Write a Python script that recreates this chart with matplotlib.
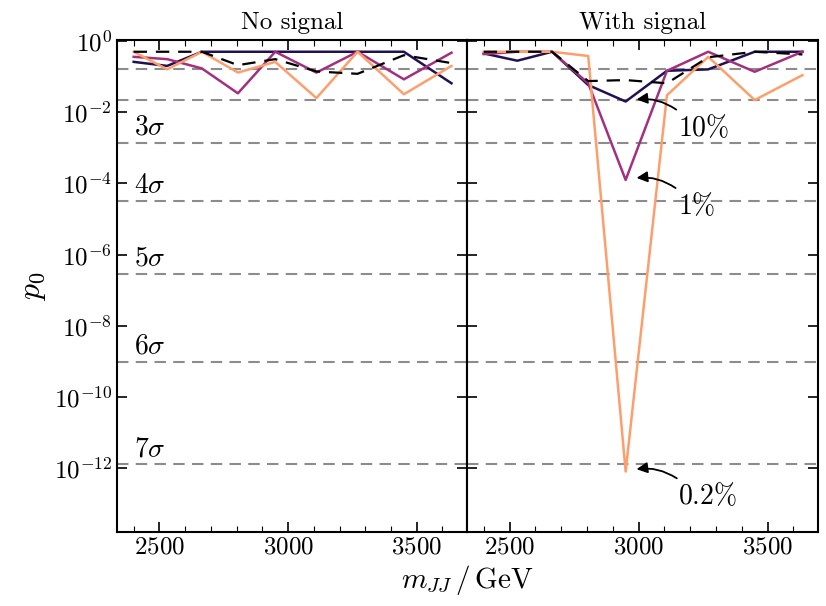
#!/usr/bin/env python3
"""Local p0 scan in m_JJ, without and with injected signal."""

import matplotlib
matplotlib.use("Agg")
import matplotlib.pyplot as plt
from matplotlib.ticker import LogLocator, NullLocator, MultipleLocator
import numpy as np

# bin centres in m_JJ [GeV]
MJJ = [2400, 2530, 2665, 2805, 2950, 3110, 3270, 3450, 3635]

# p0 values
P0_NOSIG = {
    "navy": [0.26, 0.20, 0.5, 0.5, 0.5, 0.5, 0.5, 0.5, 0.065],
    "magenta": [0.36, 0.31, 0.17, 0.034, 0.5, 0.13, 0.5, 0.084, 0.47],
    "orange": [0.5, 0.16, 0.5, 0.13, 0.26, 0.025, 0.5, 0.032, 0.20],
    "dashed": [0.5, 0.5, 0.5, 0.21, 0.31, 0.14, 0.12, 0.40, 0.24],
}
P0_SIG = {
    "navy": [0.45, 0.28, 0.5, 0.058, 0.020, 0.146, 0.16, 0.5, 0.5],
    "magenta": [0.43, 0.5, 0.5, 0.065, 1.25e-4, 0.146, 0.5, 0.137, 0.5],
    "orange": [0.5, 0.5, 0.5, 0.38, 8e-13, 0.030, 0.36, 0.022, 0.11],
    "dashed": [0.5, 0.5, 0.5, 0.075, 0.08, 0.065, 0.35, 0.5, 0.42],
}
SIG_LABELS = {"navy": r"$10\%$", "magenta": r"$1\%$", "orange": r"$0.2\%$"}

# one-sided p-values for 1..7 sigma
SIGMA_N = [1, 2, 3, 4, 5, 6, 7]
SIGMA_P = [1.587e-1, 2.275e-2, 1.350e-3, 3.167e-5, 2.867e-7, 9.866e-10, 1.280e-12]

COLORS = {"navy": "#221150", "magenta": "#a3307e", "orange": "#fd9f6c"}


def draw_panel(ax, series, title):
    for lvl in SIGMA_P:
        ax.axhline(lvl, color="#8c8c8c", lw=1.5, ls=(0, (5.5, 3.5)), zorder=1)
    for key in ["navy", "magenta", "orange"]:
        ax.plot(MJJ, series[key], color=COLORS[key], lw=1.8, zorder=3)
    ax.plot(MJJ, series["dashed"], color="k", lw=1.6, ls=(0, (6, 4)), zorder=4)
    ax.set_title(title, fontsize=18, pad=8)
    ax.set_yscale("log")
    ax.set_ylim(1.6e-14, 1.07)
    ax.set_xlim(2335, 3695)
    ax.yaxis.set_major_locator(LogLocator(base=100.0, numticks=20))
    ax.yaxis.set_minor_locator(NullLocator())
    ax.xaxis.set_major_locator(MultipleLocator(500))
    ax.xaxis.set_minor_locator(MultipleLocator(100))
    ax.tick_params(which="both", direction="in", top=True, right=True, labelsize=18)
    ax.tick_params(which="major", length=7, width=1.2)
    ax.tick_params(which="minor", length=4, width=0.8)
    for s in ax.spines.values():
        s.set_linewidth(1.5)


def main():
    plt.rcParams.update({
        "font.family": "serif",
        "font.serif": ["cmr10"],
        "mathtext.fontset": "cm",
        "axes.formatter.use_mathtext": True,
        "axes.unicode_minus": False,
    })

    fig = plt.figure(figsize=(8.26, 6.06), dpi=100)
    ax1 = fig.add_axes([0.1416, 0.1221, 0.4237, 0.8119])
    ax2 = fig.add_axes([0.5653, 0.1221, 0.4249, 0.8119], sharey=ax1)

    draw_panel(ax1, P0_NOSIG, "No signal")
    draw_panel(ax2, P0_SIG, "With signal")
    ax2.tick_params(labelleft=False)

    # sigma labels
    for n, p in zip(SIGMA_N, SIGMA_P):
        if n >= 3:
            ax1.text(2400, p * 2.7, rf"${n}\sigma$", fontsize=20,
                     ha="left", va="center")

    # annotate the dips in the signal panel
    offsets = {"navy": (56, -19), "magenta": (51, -19), "orange": (59, -18)}
    for key, lab in SIG_LABELS.items():
        vals = np.array(P0_SIG[key])
        i = int(np.argmin(vals))
        ax2.annotate(lab, xy=(MJJ[i], vals[i]), xytext=offsets[key],
                     textcoords="offset points", fontsize=20,
                     ha="center", va="center",
                     arrowprops=dict(arrowstyle="-|>", color="k", lw=1.3,
                                     mutation_scale=16,
                                     connectionstyle="arc3,rad=0.25",
                                     relpos=(0.05, 1.05), shrinkA=2, shrinkB=8))

    ax1.set_ylabel(r"$p_0$", fontsize=23, labelpad=4)
    fig.text(0.5653, 0.043, r"$m_{JJ}\,/\,\mathrm{GeV}$", fontsize=21,
             ha="center", va="center")

    fig.savefig("out.png", dpi=100)
    plt.close(fig)


if __name__ == "__main__":
    main()
